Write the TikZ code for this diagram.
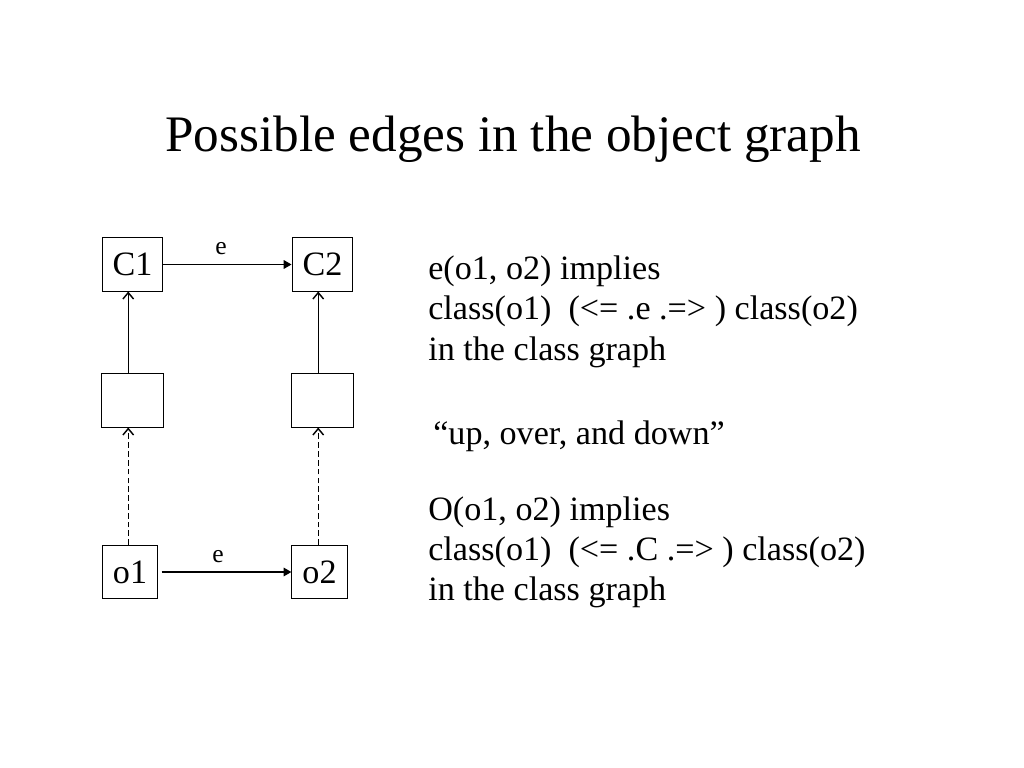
\documentclass[tikz,border=0pt]{standalone}
\usepackage{fontspec}
\setmainfont{Liberation Serif}
\usetikzlibrary{arrows.meta}

\tikzset{
  obox/.style={draw, line width=0.7pt, inner xsep=7.4pt, minimum height=37.3pt,
    font=\fontsize{24}{28}\selectfont},
  emptybox/.style={obox, minimum width=42.9pt},
  edge/.style={line width=1.1pt, -{Triangle[length=5.5pt,width=6pt]}},
  up/.style={line width=1pt, -{Straight Barb[length=4.5pt,width=7.5pt]}},
  elabel/.style={font=\fontsize{18}{20}\selectfont, inner sep=0pt, above=6pt, pos=0.45},
  body/.style={anchor=base west, inner sep=0pt, font=\fontsize{24}{28}\selectfont}
}

\begin{document}
\begin{tikzpicture}[x=0.703125pt,y=-0.703125pt]
    \useasboundingbox[fill=white] (0,0) rectangle (1024,768);
    \node[anchor=base west, inner sep=0pt, font=\fontsize{36}{40}\selectfont] (title) at (165,152)
        {Possible edges in the object graph};

    % class graph and object graph
    \node[obox] (C1) at (132.5,264.5) {C1};
    \node[obox] (C2) at (322.5,264.5) {C2};
    \node[emptybox] (b1) at (132.5,400.5) {};
    \node[emptybox] (b2) at (322.5,400.5) {};
    \node[obox] (o1) at (130,572) {o1};
    \node[obox] (o2) at (319.5,572) {o2};

    \draw[edge] (C1) -- node[elabel] {e} (C2);
    \draw[edge, shorten <=2.5pt] (o1) -- node[elabel] {e} (o2);

    \foreach \b/\c/\o in {b1/C1/o1, b2/C2/o2} {
        \draw[up] ([xshift=-3pt]\b.north) -- ([xshift=-3pt]\c.south);
        \draw[up, dash pattern=on 4pt off 2.2pt] ([xshift=-3pt]\b.south |- \o.north) -- ([xshift=-3pt]\b.south);
    }

    % explanation
    \foreach \y/\x/\txt in {280/428/{e(o1, o2) implies},
                            320/428/{class(o1)\ \ (<= .e .=> ) class(o2)},
                            360/428/{in the class graph},
                            444/433/{“up, over, and down”},
                            520/428/{O(o1, o2) implies},
                            560/428/{class(o1)\ \ (<= .C .=> ) class(o2)},
                            600/428/{in the class graph}} {
        \node[body] at (\x,\y) {\txt};
    }
\end{tikzpicture}
\end{document}
